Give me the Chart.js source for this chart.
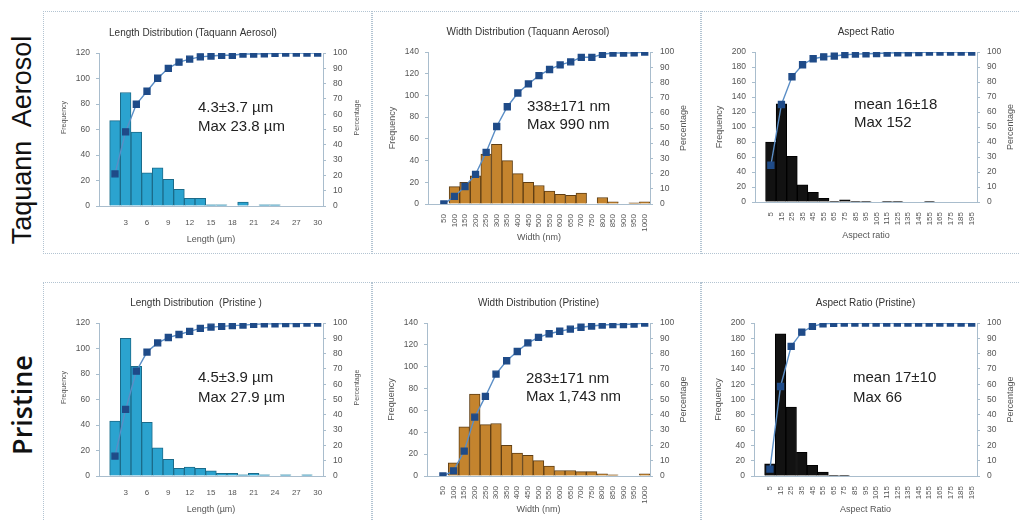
<!DOCTYPE html>
<html>
<head>
<meta charset="utf-8">
<script src="https://cdn.jsdelivr.net/npm/chart.js@4.4.1/dist/chart.umd.min.js"></script>
<style>
  body { margin: 0; width: 1020px; height: 520px; overflow: hidden; background: #fff; position: relative; font-family: "Liberation Sans", Arial, sans-serif; }
  .box { position: absolute; border: 1px dotted #b3c4d2; box-sizing: border-box; pointer-events: none; }
  canvas { position: absolute; }
  .row { position: absolute; width: 260px; height: 34px; line-height: 34px; text-align: center; transform: rotate(-90deg); white-space: pre; color: #111; font-size: 27px; }
</style>
</head>
<body>
<div class="row" style="left:-108px; top:123px; font-family:'Liberation Sans';">Taquann  Aerosol</div>
<div class="row" style="left:-108px; top:388px; font-family:'Open Sans'; font-weight:600;">Pristine</div>

<canvas id="c1"></canvas>
<canvas id="c2"></canvas>
<canvas id="c3"></canvas>
<canvas id="c4"></canvas>
<canvas id="c5"></canvas>
<canvas id="c6"></canvas>

<script>
// bins (first slot is an empty category, as in the original charts)
const lengthBins = ['', '1.5', '3', '4.5', '6', '7.5', '9', '10.5', '12', '13.5', '15', '16.5', '18', '19.5', '21', '22.5', '24', '25.5', '27', '28.5', '30'];
const widthBins = ['', '50', '100', '150', '200', '250', '300', '350', '400', '450', '500', '550', '600', '650', '700', '750', '800', '850', '900', '950', '1000'];
const aspectBins = ['', '5', '15', '25', '35', '45', '55', '65', '75', '85', '95', '105', '115', '125', '135', '145', '155', '165', '175', '185', '195'];

// Taquann Aerosol
const taqLengthFreq = [null, 67, 89, 58, 26, 30, 21, 13, 6, 6, 1, 1, 0, 3, 0, 1, 1, 0, 0, 0, 0];
const taqLengthPct = [null, 21, 48.5, 66.5, 75, 83.5, 90, 94, 96, 97.5, 98, 98.5, 98.5, 99.3, 99.3, 99.5, 99.8, 100, 100, 100, 100];
const taqWidthFreq = [null, 0, 16, 20, 26, 46, 55, 40, 28, 20, 17, 12, 9, 8, 10, 0, 6, 2, 0, 1, 2];
const taqWidthPct = [null, 0, 5, 11.5, 19.5, 34, 51, 64, 73, 79, 84.5, 88.5, 91.5, 93.5, 96.5, 96.5, 98.5, 99.3, 99.3, 99.5, 100];
const taqAspectFreq = [null, 80, 131, 61, 23, 13, 5, 1, 3, 1, 1, 0, 1, 1, 0, 0, 1, 0, 0, 0, 0];
const taqAspectPct = [null, 24.5, 65, 83.5, 91.5, 95.5, 96.8, 97.3, 98.2, 98.6, 98.8, 99, 99.3, 99.5, 99.5, 99.6, 100, 100, 100, 100, 100];

// Pristine
const priLengthFreq = [null, 43, 108, 86, 42, 22, 13, 6, 7, 6, 4, 2, 2, 1, 2, 1, 0, 1, 0, 1, 0];
const priLengthPct = [null, 13, 43.5, 68.5, 81, 87, 90.5, 92.5, 94.5, 96.5, 97.3, 97.8, 98.3, 98.6, 99.1, 99.4, 99.4, 99.7, 99.7, 100, 100];
const priWidthFreq = [null, 0, 12, 45, 75, 47, 48, 28, 21, 19, 14, 9, 5, 5, 4, 4, 2, 1, 0, 0, 2];
const priWidthPct = [null, 0, 3.3, 16.3, 38.5, 52, 66.6, 75.3, 81.4, 87, 90.6, 93, 94.6, 96, 97.2, 98, 98.7, 99, 99, 99.3, 100];
const priAspectFreq = [null, 16, 186, 90, 31, 14, 5, 1, 1, 0, 0, 0, 0, 0, 0, 0, 0, 0, 0, 0, 0];
const priAspectPct = [null, 4.5, 58.5, 84.7, 94, 97.8, 99.5, 99.8, 100, 100, 100, 100, 100, 100, 100, 100, 100, 100, 100, 100, 100];

const axisColor = '#a9bdcd';
const tickColor = '#555';
const cyan = ['#2ba3cf', '#1b6b8a'];
const brown = ['#c4842e', '#5f3e14'];
const black = ['#121212', '#000'];

// box = panel frame [left, top, width, height], area = plot area [left, top, right, bottom] in page px
const panels = [
  { id: 'c1', box: [43, 11, 329, 243], area: [99, 53, 323, 206], title: 'Length Distribution (Taquann Aerosol)', titleDx: -18,
    xTitle: 'Length (\u00b5m)', labels: lengthBins, freq: taqLengthFreq, pct: taqLengthPct, yMax: 120, colors: cyan,
    every: 2, rot: 0, stats: ['4.3\u00b13.7 \u00b5m', 'Max 23.8 \u00b5m'], sy: [55, 74], axSize: 7, axDy: -12 },
  { id: 'c2', box: [372, 11, 329, 243], area: [428, 52, 650, 204], title: 'Width Distribution (Taquann Aerosol)', titleDx: -11,
    xTitle: 'Width (nm)', labels: widthBins, freq: taqWidthFreq, pct: taqWidthPct, yMax: 140, colors: brown,
    every: 1, rot: 90, stats: ['338\u00b1171 nm', 'Max 990 nm'], sy: [55, 73], axSize: 9, axDy: 0 },
  { id: 'c3', box: [701, 11, 330, 243], area: [755, 52, 977, 202], title: 'Aspect Ratio', titleDx: 0,
    xTitle: 'Aspect ratio', labels: aspectBins, freq: taqAspectFreq, pct: taqAspectPct, yMax: 200, colors: black,
    every: 1, rot: 90, stats: ['mean 16\u00b118', 'Max 152'], sy: [53, 71], axSize: 9, axDy: 0 },
  { id: 'c4', box: [43, 282, 329, 250], area: [99, 323, 323, 476], title: 'Length Distribution  (Pristine )', titleDx: -15,
    xTitle: 'Length (\u00b5m)', labels: lengthBins, freq: priLengthFreq, pct: priLengthPct, yMax: 120, colors: cyan,
    every: 2, rot: 0, stats: ['4.5\u00b13.9 \u00b5m', 'Max 27.9 \u00b5m'], sy: [55, 75], axSize: 7, axDy: -12 },
  { id: 'c5', box: [372, 282, 329, 250], area: [427, 323, 650, 476], title: 'Width Distribution (Pristine)', titleDx: 0,
    xTitle: 'Width (nm)', labels: widthBins, freq: priWidthFreq, pct: priWidthPct, yMax: 140, colors: brown,
    every: 1, rot: 90, stats: ['283\u00b1171 nm', 'Max 1,743 nm'], sy: [56, 74], axSize: 9, axDy: 0 },
  { id: 'c6', box: [701, 282, 330, 250], area: [754, 323, 977, 476], title: 'Aspect Ratio (Pristine)', titleDx: 0,
    xTitle: 'Aspect Ratio', labels: aspectBins, freq: priAspectFreq, pct: priAspectPct, yMax: 200, colors: black,
    every: 1, rot: 90, stats: ['mean 17\u00b110', 'Max 66'], sy: [55, 75], axSize: 9, axDy: 0 }
];

const FONT = '"Liberation Sans", Arial, sans-serif';

const drawTexts = (chart, p) => {
  const { ctx, chartArea: a } = chart;
  const cx = (a.left + a.right) / 2;
  const cy = (a.top + a.bottom) / 2 + p.axDy;
  ctx.save();
  ctx.textAlign = 'center';
  ctx.textBaseline = 'middle';
  ctx.fillStyle = '#333';
  ctx.font = '10px ' + FONT;
  ctx.fillText(p.title, cx + p.titleDx, a.top - 20);
  ctx.fillStyle = '#555';
  ctx.font = '9px ' + FONT;
  ctx.fillText(p.xTitle, cx, a.bottom + 34);
  // axis titles, both read bottom to top
  ctx.font = p.axSize + 'px ' + FONT;
  ctx.translate(a.left - 35, cy);
  ctx.rotate(-Math.PI / 2);
  ctx.fillText('Frequency', 0, 0);
  ctx.setTransform(1, 0, 0, 1, 0, 0);
  ctx.translate(a.right + 34, cy);
  ctx.rotate(-Math.PI / 2);
  ctx.fillText('Percentage', 0, 0);
  ctx.setTransform(1, 0, 0, 1, 0, 0);
  // stats text
  ctx.textAlign = 'left';
  ctx.fillStyle = '#222';
  ctx.font = '15px ' + FONT;
  ctx.fillText(p.stats[0], a.left + 99, a.top + p.sy[0]);
  ctx.fillText(p.stats[1], a.left + 99, a.top + p.sy[1]);
  ctx.restore();
};

const makeChart = (p) => {
  const cv = document.getElementById(p.id);
  const [bx, by, bw, bh] = p.box;
  cv.width = bw;
  cv.height = bh;
  cv.style.left = bx + 'px';
  cv.style.top = by + 'px';

  const frame = document.createElement('div');
  frame.className = 'box';
  frame.style.cssText = `left:${bx}px;top:${by}px;width:${bw}px;height:${bh}px;`;
  document.body.appendChild(frame);

  const al = p.area[0] - bx, at = p.area[1] - by, ar = p.area[2] - bx, ab = p.area[3] - by;
  const yW = 30, y1W = 26, xH = 32;
  const tickFont = { family: FONT, size: 8.5 };

  new Chart(cv, {
    data: {
      labels: p.labels,
      datasets: [
        {
          type: 'line', data: p.pct, yAxisID: 'y1', order: 0,
          borderColor: '#5b8ec6', borderWidth: 1.4, tension: 0,
          pointStyle: 'rect', pointRadius: 4.2,
          pointBackgroundColor: '#1f4b88', pointBorderColor: '#1f4b88'
        },
        {
          type: 'bar', data: p.freq, yAxisID: 'y', order: 1,
          backgroundColor: p.colors[0], borderColor: p.colors[1], borderWidth: 1,
          barPercentage: 1, categoryPercentage: 1
        }
      ]
    },
    options: {
      responsive: false,
      animation: false,
      events: [],
      layout: { padding: { left: al - yW, right: bw - ar - y1W, top: at, bottom: bh - ab - xH } },
      plugins: { legend: { display: false }, tooltip: { enabled: false } },
      scales: {
        x: {
          grid: { display: false },
          border: { color: axisColor },
          ticks: {
            autoSkip: false, minRotation: p.rot, maxRotation: p.rot,
            padding: p.rot ? 2 : 4, color: tickColor, font: { family: FONT, size: 8 },
            callback: (v, i) => (i > 0 && i % p.every === 0) ? p.labels[i] : ''
          },
          afterFit: (s) => { s.height = xH; }
        },
        y: {
          position: 'left', min: 0, max: p.yMax,
          grid: { drawOnChartArea: false, tickLength: 3, color: axisColor },
          border: { color: axisColor },
          ticks: { stepSize: 20, padding: 6, color: tickColor, font: tickFont },
          afterFit: (s) => { s.width = yW; }
        },
        y1: {
          position: 'right', min: 0, max: 100,
          grid: { drawOnChartArea: false, tickLength: 3, color: axisColor },
          border: { color: axisColor },
          ticks: { stepSize: 10, padding: 7, color: tickColor, font: tickFont },
          afterFit: (s) => { s.width = y1W; }
        }
      }
    },
    plugins: [{ id: 'panelText', afterDraw: (chart) => drawTexts(chart, p) }]
  });
};

panels.forEach(makeChart);
</script>
</body>
</html>
